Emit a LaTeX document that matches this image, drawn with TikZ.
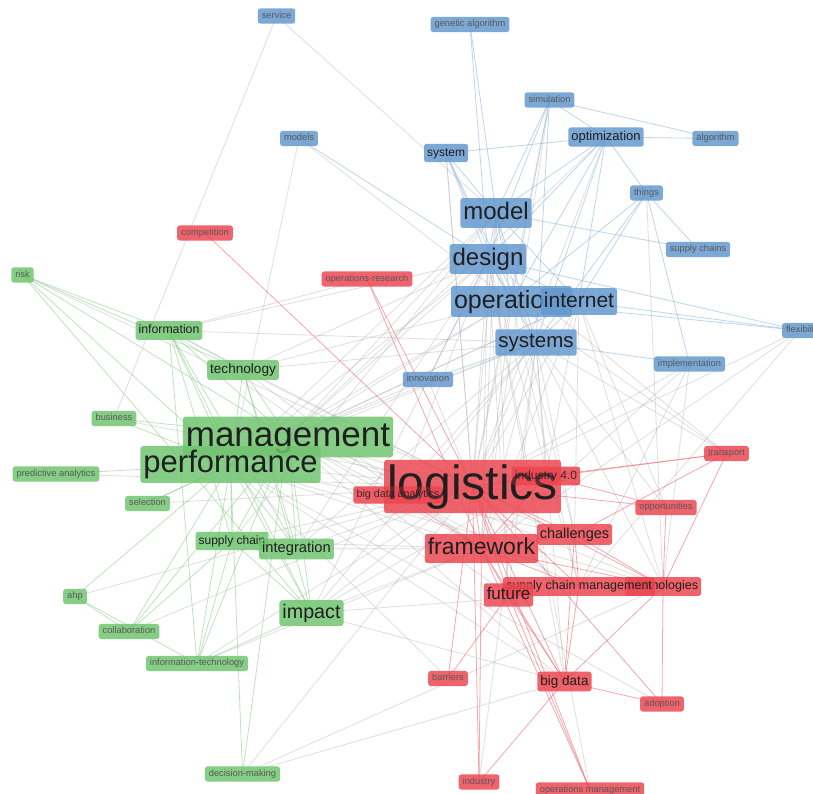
\documentclass[tikz,border=0pt]{standalone}
\usepackage{fontspec}
\setmainfont{Liberation Sans}
\definecolor{cblue}{RGB}{100,152,206}
\definecolor{cgreen}{RGB}{112,196,112}
\definecolor{cred}{RGB}{236,70,80}
\definecolor{lblue}{RGB}{140,180,220}
\definecolor{lgreen}{RGB}{140,205,140}
\definecolor{lred}{RGB}{238,110,120}
\definecolor{lgrey}{RGB}{175,175,180}
\pgfdeclarelayer{edges}
\pgfdeclarelayer{under}
\pgfsetlayers{edges,under,main}
\newcommand\kw[6]{\node[#2,font=\fontsize{#3}{#3}\selectfont,text height={0.75*#3pt},text depth={0.22*#3pt}] (#1) at (#4,#5) {#6};}
\tikzset{
  kbase/.style={rectangle, rounded corners=2.5pt, inner xsep=3pt, inner ysep=3.3pt,
    fill opacity=0.84, text opacity=1, text=black!88},
  kb/.style={kbase, fill=cblue},
  kg/.style={kbase, fill=cgreen},
  kr/.style={kbase, fill=cred},
  sm/.style={inner xsep=4pt, inner ysep=3pt, text=black!65},
  over/.style={fill opacity=0.3, text opacity=0.85},
  eb/.style={draw=lblue, line width=0.8pt, draw opacity=0.55},
  eg/.style={draw=lgreen, line width=0.8pt, draw opacity=0.55},
  er/.style={draw=lred, line width=0.8pt, draw opacity=0.6},
  ey/.style={draw=lgrey, line width=0.8pt, draw opacity=0.4},
}
\begin{document}
\begin{tikzpicture}[x=1pt,y=-1pt]
\useasboundingbox (0,0) rectangle (813,794);
% ---------- small nodes ----------
\kw{service}{kb,sm}{9.3}{276.5}{16}{service}
\kw{genetic}{kb,sm}{9.3}{470}{24.5}{genetic algorithm}
\kw{simulation}{kb,sm}{9.3}{549.5}{100}{simulation}
\kw{algorithm}{kb,sm}{9.3}{715.5}{138.5}{algorithm}
\kw{models}{kb,sm}{9.3}{299}{138.5}{models}
\kw{things}{kb,sm}{9.3}{646.5}{193}{things}
\kw{supplychains}{kb,sm}{9.3}{698}{249.5}{supply chains}
\kw{innovation}{kb,sm}{9.3}{428}{379.5}{innovation}
\kw{implementation}{kb,sm}{9.3}{689.5}{364}{implementation}
\kw{flexibility}{kb,sm}{9.3}{800}{330.5}{flexibili}
\kw{competition}{kr,sm}{9.3}{205}{233}{competition}
\kw{opresearch}{kr,sm}{9.3}{367}{279}{operations-research}
\kw{transport}{kr,sm}{9.3}{726.5}{453.5}{transport}
\kw{opportunities}{kr,sm}{9.3}{666}{507.5}{opportunities}
\kw{barriers}{kr,sm}{9.3}{448}{678.5}{barriers}
\kw{adoption}{kr,sm}{9.3}{662}{704}{adoption}
\kw{industry}{kr,sm}{9.3}{479}{782}{industry}
\kw{opsmgmt}{kr,sm}{9.3}{590}{790}{operations management}
\kw{risk}{kg,sm}{9.3}{22.5}{275}{risk}
\kw{business}{kg,sm}{9.3}{114}{418.5}{business}
\kw{predictive}{kg,sm}{9.3}{56}{474}{predictive analytics}
\kw{selection}{kg,sm}{9.3}{147.5}{503.5}{selection}
\kw{ahp}{kg,sm}{9.3}{75}{596.5}{ahp}
\kw{collaboration}{kg,sm}{9.3}{129}{631.5}{collaboration}
\kw{infotech}{kg,sm}{9.3}{197}{663.5}{information-technology}
\kw{decision}{kg,sm}{9.3}{242.5}{774}{decision-making}
% ---------- medium nodes ----------
\kw{optimization}{kb}{13}{606}{137}{optimization}
\kw{system}{kb}{12}{446}{153}{system}
\kw{information}{kg}{12.3}{169}{330.5}{information}
\kw{technology}{kg}{13.6}{243}{370}{technology}
\kw{supplychain}{kg}{12}{232}{541}{supply chain}
\kw{integration}{kg}{14.7}{296.5}{549}{integration}
\kw{impact}{kg}{19.7}{311.5}{613}{impact}
\kw{bigdata}{kr}{13.5}{564.5}{681.5}{big data}
\kw{technologies}{kr}{12.5}{663}{586.5}{technologies}
\kw{scm}{kr}{12.5}{579}{586.5}{supply chain management}
\kw{future}{kr}{17}{508.5}{595}{future}
\kw{challenges}{kr}{14.5}{574.5}{534.5}{challenges}
% ---------- large nodes ----------
\kw{model}{kb}{24}{496}{213}{model}
\kw{design}{kb}{24}{488}{259}{design}
\node[kb,font=\fontsize{25}{25}\selectfont,text height=18.75pt,text depth=5.5pt,text width=115pt,align=left] (operatio) at (511.5,301.5) {operatio};
\kw{internet}{kb}{21}{579}{301.5}{internet}
\kw{systems}{kb}{20.5}{536}{342.5}{systems}
\kw{framework}{kr}{23}{481.5}{548.5}{framework}
\kw{management}{kg}{35}{288}{437}{management}
\kw{performance}{kg}{31}{230.5}{464.5}{performance}
\kw{logistics}{kr}{48}{472.5}{486.5}{logistics}
% labels lying over the logistics box
\kw{industryfour}{kr,over}{12}{546}{476}{industry 4.0}
\kw{bda}{kr,over}{10.7}{398}{495}{big data analytics}
\begin{pgfonlayer}{under}
\foreach \n in {industryfour,bda}
  \fill[cred,fill opacity=0.8,rounded corners=2.5pt] (\n.south west) rectangle (\n.north east);
\end{pgfonlayer}
% ---------- edges ----------
\begin{pgfonlayer}{edges}
\fill[white] (0,0) rectangle (813,794);
% grey cross-cluster edges
\foreach \a/\b in {management/logistics, management/design, management/model, management/operatio,
  management/systems, management/internet, management/framework, management/challenges, management/future,
  management/bigdata, management/scm, performance/logistics, performance/framework, performance/design,
  performance/model, performance/systems, performance/operatio, performance/bigdata, performance/technologies,
  technology/logistics, technology/design, technology/operatio, information/design, information/systems,
  information/logistics, integration/logistics, integration/framework, integration/design, impact/logistics,
  impact/framework, impact/bigdata, impact/technologies, impact/industryfour, supplychain/logistics,
  supplychain/model, decision/logistics, decision/bigdata, infotech/logistics, risk/logistics,
  logistics/design, logistics/model, logistics/operatio, logistics/systems, logistics/internet,
  logistics/optimization, logistics/simulation, logistics/system, logistics/innovation, framework/design,
  framework/model, framework/systems, framework/operatio, challenges/internet, challenges/systems,
  scm/design, scm/operatio, future/design, future/model, bigdata/design, bigdata/systems,
  industryfour/internet, industryfour/systems, technologies/internet, technologies/systems,
  flexibility/logistics, flexibility/framework, flexibility/scm, implementation/logistics,
  implementation/framework, implementation/scm, implementation/technologies, transport/operatio,
  transport/systems, opportunities/internet, things/technologies, models/performance, models/operatio,
  service/model, service/business, information/opresearch, performance/internet, management/optimization,
  impact/design, impact/systems, integration/systems, technology/systems, bda/design, bda/systems,
  performance/challenges, management/technologies, framework/internet, future/systems, opsmgmt/design,
  industry/systems, collaboration/logistics, business/logistics, predictive/logistics, selection/logistics,
  ahp/logistics, infotech/framework, decision/technologies, supplychain/framework, technology/framework,
  information/framework, adoption/performance, barriers/performance, innovation/management,
  opportunities/systems, transport/design, simulation/framework, system/logistics, model/challenges}
  \draw[ey] (\a.center) -- (\b.center);
% red edges
\foreach \a/\b in {competition/logistics, opresearch/logistics, opresearch/framework, logistics/industryfour,
  logistics/transport, logistics/opportunities, logistics/challenges, logistics/framework, logistics/future,
  logistics/scm, logistics/technologies, logistics/bigdata, logistics/industry, logistics/opsmgmt,
  logistics/barriers, logistics/adoption, transport/industryfour, transport/technologies, transport/challenges,
  opportunities/industryfour, bigdata/adoption, bigdata/industry, bigdata/future, bigdata/framework,
  bigdata/challenges, bigdata/scm, future/barriers, technologies/challenges, technologies/framework,
  opsmgmt/future, opsmgmt/framework, challenges/framework, framework/industryfour, bda/framework,
  industry/framework, scm/framework, adoption/technologies, scm/challenges, future/framework, bda/logistics,
  opportunities/technologies, bigdata/technologies}
  \draw[er] (\a.center) -- (\b.center);
% blue edges
\foreach \a/\b in {genetic/model, genetic/design, simulation/model, simulation/design, simulation/optimization,
  simulation/algorithm, simulation/systems, simulation/operatio, optimization/algorithm, optimization/system,
  optimization/model, optimization/design, optimization/operatio, optimization/internet, optimization/systems,
  optimization/things, system/model, system/design, system/operatio, system/systems, things/supplychains,
  things/internet, things/systems, things/operatio, things/implementation, supplychains/model,
  flexibility/internet, flexibility/operatio, flexibility/design, implementation/systems, innovation/systems,
  innovation/design, model/design, design/operatio, model/systems, model/internet, design/systems,
  internet/systems, models/design, design/internet, model/operatio}
  \draw[eb] (\a.center) -- (\b.center);
% green edges
\foreach \a/\b in {risk/information, risk/technology, risk/management, risk/performance, risk/impact,
  information/management, information/performance, information/technology, information/supplychain,
  information/integration, information/impact, technology/management, technology/performance,
  technology/impact, technology/integration, business/management, business/performance,
  predictive/performance, selection/management, selection/performance, supplychain/performance,
  supplychain/management, supplychain/integration, supplychain/infotech, integration/performance,
  integration/management, impact/performance, impact/management, impact/supplychain, ahp/performance,
  ahp/collaboration, ahp/infotech, collaboration/performance, collaboration/management,
  collaboration/supplychain, infotech/performance, infotech/management, infotech/impact,
  infotech/information, decision/performance, decision/management, management/performance}
  \draw[eg] (\a.center) -- (\b.center);
\end{pgfonlayer}
\end{tikzpicture}
\end{document}
